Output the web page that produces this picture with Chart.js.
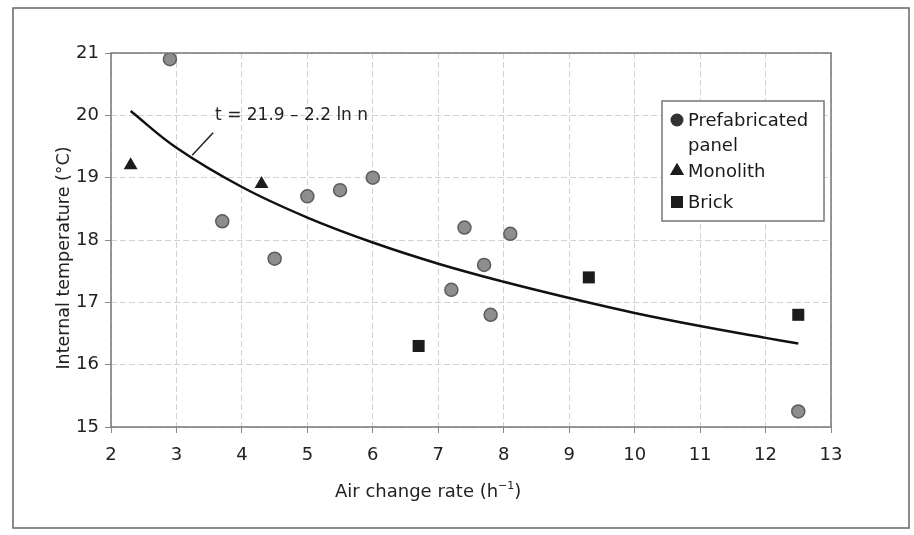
<!DOCTYPE html>
<html>
<head>
<meta charset="utf-8">
<script src="https://cdn.jsdelivr.net/npm/chart.js@4.4.1/dist/chart.umd.min.js"></script>
<style>
  html, body { margin: 0; padding: 0; background: #fff; }
  #wrap { width: 914px; height: 535px; }
</style>
</head>
<body>
<div id="wrap"><canvas id="grafico"></canvas></div>
<script>
// values
var painelX = [2.9, 3.7, 4.5, 5.0, 5.5, 6.0, 7.2, 7.4, 7.7, 7.8, 8.1, 12.5];
var painelY = [20.9, 18.3, 17.7, 18.7, 18.8, 19.0, 17.2, 18.2, 17.6, 16.8, 18.1, 15.25];
var monolitoX = [2.3, 4.3];
var monolitoY = [19.2, 18.9];
var tijoloX = [6.7, 9.3, 12.5];
var tijoloY = [16.3, 17.4, 16.8];
// fitted curve t = 21.9 - 2.2 ln n
var curvaX = [2.3, 3, 4, 5, 6, 7, 8, 9, 10, 11, 12, 12.5];
var curvaY = [20.07, 19.48, 18.85, 18.36, 17.96, 17.62, 17.33, 17.07, 16.83, 16.62, 16.43, 16.34];
var legendaTextos = [["Prefabricated", "panel"], ["Monolith"], ["Brick"]];

function Pontos(xs, ys) {
    return xs.map(function (x, i) { return { x: x, y: ys[i] }; });
}

var molduraPlugin = {
    id: 'moldura',
    afterDraw: function (chart) {
        var ctx = chart.ctx;
        var a = chart.chartArea;
        var sx = chart.scales.x, sy = chart.scales.y;
        ctx.save();

        // outer frame
        ctx.strokeStyle = '#666';
        ctx.lineWidth = 1.5;
        ctx.strokeRect(13, 8, 896, 520);

        // plot box
        ctx.strokeStyle = '#777';
        ctx.lineWidth = 1.5;
        ctx.strokeRect(a.left, a.top, a.right - a.left, a.bottom - a.top);

        // equation label and leader
        ctx.fillStyle = '#222';
        ctx.font = '17px "DejaVu Sans"';
        ctx.textAlign = 'left';
        ctx.textBaseline = 'alphabetic';
        ctx.fillText('t = 21.9 \u2013 2.2 ln n', sx.getPixelForValue(3.59), sy.getPixelForValue(19.93));
        ctx.strokeStyle = '#222';
        ctx.lineWidth = 1.5;
        ctx.beginPath();
        ctx.moveTo(sx.getPixelForValue(3.24), sy.getPixelForValue(19.36));
        ctx.lineTo(sx.getPixelForValue(3.56), sy.getPixelForValue(19.72));
        ctx.stroke();

        // legend
        ctx.fillStyle = '#fff';
        ctx.fillRect(662, 101, 162, 120);
        ctx.strokeStyle = '#777';
        ctx.lineWidth = 1.5;
        ctx.strokeRect(662, 101, 162, 120);
        var linhas = [126, 177, 208];
        var coresLegenda = ['#333', '#1c1c1c', '#1c1c1c'];
        ctx.font = '18px "DejaVu Sans"';
        chart.data.datasets.slice(0, 3).forEach(function (ds, i) {
            var base = linhas[i];
            Chart.helpers.drawPoint(ctx, {
                pointStyle: ds.pointStyle,
                radius: ds.pointRadius,
                borderWidth: 0
            }, 677, base - 6);
            ctx.fillStyle = coresLegenda[i];
            ctx.fill();
            ctx.fillStyle = '#1a1a1a';
            legendaTextos[i].forEach(function (t, j) {
                ctx.fillText(t, 688, base + j * 25);
            });
        });

        // axis titles
        ctx.fillStyle = '#222';
        ctx.font = '17.5px "DejaVu Sans"';
        ctx.save();
        ctx.translate(64, 258);
        ctx.rotate(-Math.PI / 2);
        ctx.textAlign = 'center';
        ctx.textBaseline = 'middle';
        ctx.fillText('Internal temperature (\u00B0C)', 0, 0);
        ctx.restore();

        ctx.font = '18px "DejaVu Sans"';
        ctx.textAlign = 'left';
        var xt = 335, yt = 497;
        var p1 = 'Air change rate (h';
        ctx.fillText(p1, xt, yt);
        xt += ctx.measureText(p1).width;
        ctx.font = '11px "DejaVu Sans"';
        ctx.fillText('\u22121', xt, yt - 8);
        xt += ctx.measureText('\u22121').width;
        ctx.font = '18px "DejaVu Sans"';
        ctx.fillText(')', xt, yt);

        ctx.restore();
    }
};

var ctx = document.getElementById('grafico').getContext('2d');

var grafico = new Chart(ctx, {
    type: 'scatter',
    data: {
        datasets: [{
            label: "Prefabricated panel",
            data: Pontos(painelX, painelY),
            pointStyle: 'circle',
            pointRadius: 6.5,
            backgroundColor: '#8e8e8e',
            borderColor: '#5c5c5c',
            borderWidth: 1.5
        }, {
            label: "Monolith",
            data: Pontos(monolitoX, monolitoY),
            pointStyle: 'triangle',
            pointRadius: 8,
            backgroundColor: '#1c1c1c',
            borderColor: '#1c1c1c',
            borderWidth: 0
        }, {
            label: "Brick",
            data: Pontos(tijoloX, tijoloY),
            pointStyle: 'rect',
            pointRadius: 8.5,
            backgroundColor: '#1c1c1c',
            borderColor: '#1c1c1c',
            borderWidth: 0
        }, {
            label: "t = 21.9 - 2.2 ln n",
            data: Pontos(curvaX, curvaY),
            showLine: true,
            pointRadius: 0,
            borderColor: '#111',
            borderWidth: 2.5,
            tension: 0.4,
            fill: false
        }]
    },
    options: {
        responsive: true,
        maintainAspectRatio: false,
        animation: false,
        layout: { padding: { left: 0, top: 53, right: 83, bottom: 0 } },
        plugins: {
            legend: { display: false },
            tooltip: { enabled: false }
        },
        scales: {
            x: {
                type: 'linear',
                min: 2,
                max: 13,
                afterFit: function (s) { s.height = 108; },
                ticks: {
                    stepSize: 1,
                    padding: 12,
                    color: '#222',
                    font: { family: 'DejaVu Sans', size: 18 }
                },
                grid: { color: '#d2d2d2', tickLength: 6, tickColor: '#888' },
                border: { display: false, dash: [6, 3] }
            },
            y: {
                min: 15,
                max: 21,
                afterFit: function (s) { s.width = 111; },
                ticks: {
                    stepSize: 1,
                    padding: 6,
                    color: '#222',
                    font: { family: 'DejaVu Sans', size: 18 }
                },
                grid: { color: '#d2d2d2', tickLength: 6, tickColor: '#888' },
                border: { display: false, dash: [6, 3] }
            }
        }
    },
    plugins: [molduraPlugin]
});
</script>
</body>
</html>
